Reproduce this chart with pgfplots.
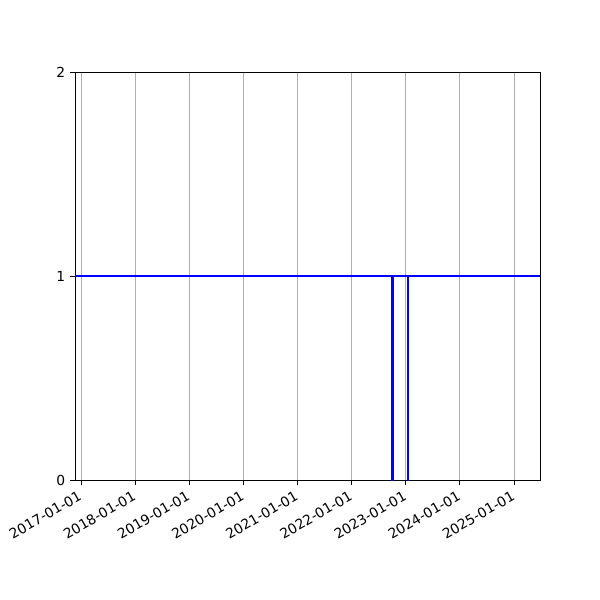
\documentclass[border=0pt]{standalone}
\usepackage{fontspec}
\setmainfont{DejaVu Sans}
\usepackage{pgfplots}
\pgfplotsset{compat=1.18}

\definecolor{gridgray}{HTML}{B0B0B0}

\begin{document}
\begin{tikzpicture}
\path[use as bounding box] (-0.75in,-1.2in) rectangle (5.25in,4.8in);
\begin{axis}[
    at={(0,0)}, anchor=south west,
    width=4.65in, height=4.08in, scale only axis,
    xmin=2016.889, xmax=2025.480,
    ymin=0, ymax=2,
    xtick={2017,2018,2019,2020,2021,2022,2023,2024,2025},
    xticklabels={2017-01-01,2018-01-01,2019-01-01,2020-01-01,2021-01-01,2022-01-01,2023-01-01,2024-01-01,2025-01-01},
    ytick={0,1,2},
    xticklabel style={rotate=30, anchor=north east, font=\fontsize{10}{12}\selectfont, inner sep=2pt, xshift=-2pt},
    yticklabel style={font=\fontsize{10}{12}\selectfont},
    /pgf/number format/assume math mode=true,
    tick align=outside, major tick length=3.5pt,
    xtick pos=bottom, ytick pos=left,
    tick style={black, line width=0.6pt},
    axis line style={line width=0.6pt},
    xmajorgrids, major grid style={gridgray, line width=0.6pt},
]
\addplot[blue, line width=1.5pt, line join=miter] coordinates {
    (2016.5,1) (2022.748,1) (2022.748,0) (2022.762,0) (2022.762,1)
    (2023.040,1) (2023.040,0) (2023.046,0) (2023.046,1) (2026,1)
};
\end{axis}
\end{tikzpicture}
\end{document}
